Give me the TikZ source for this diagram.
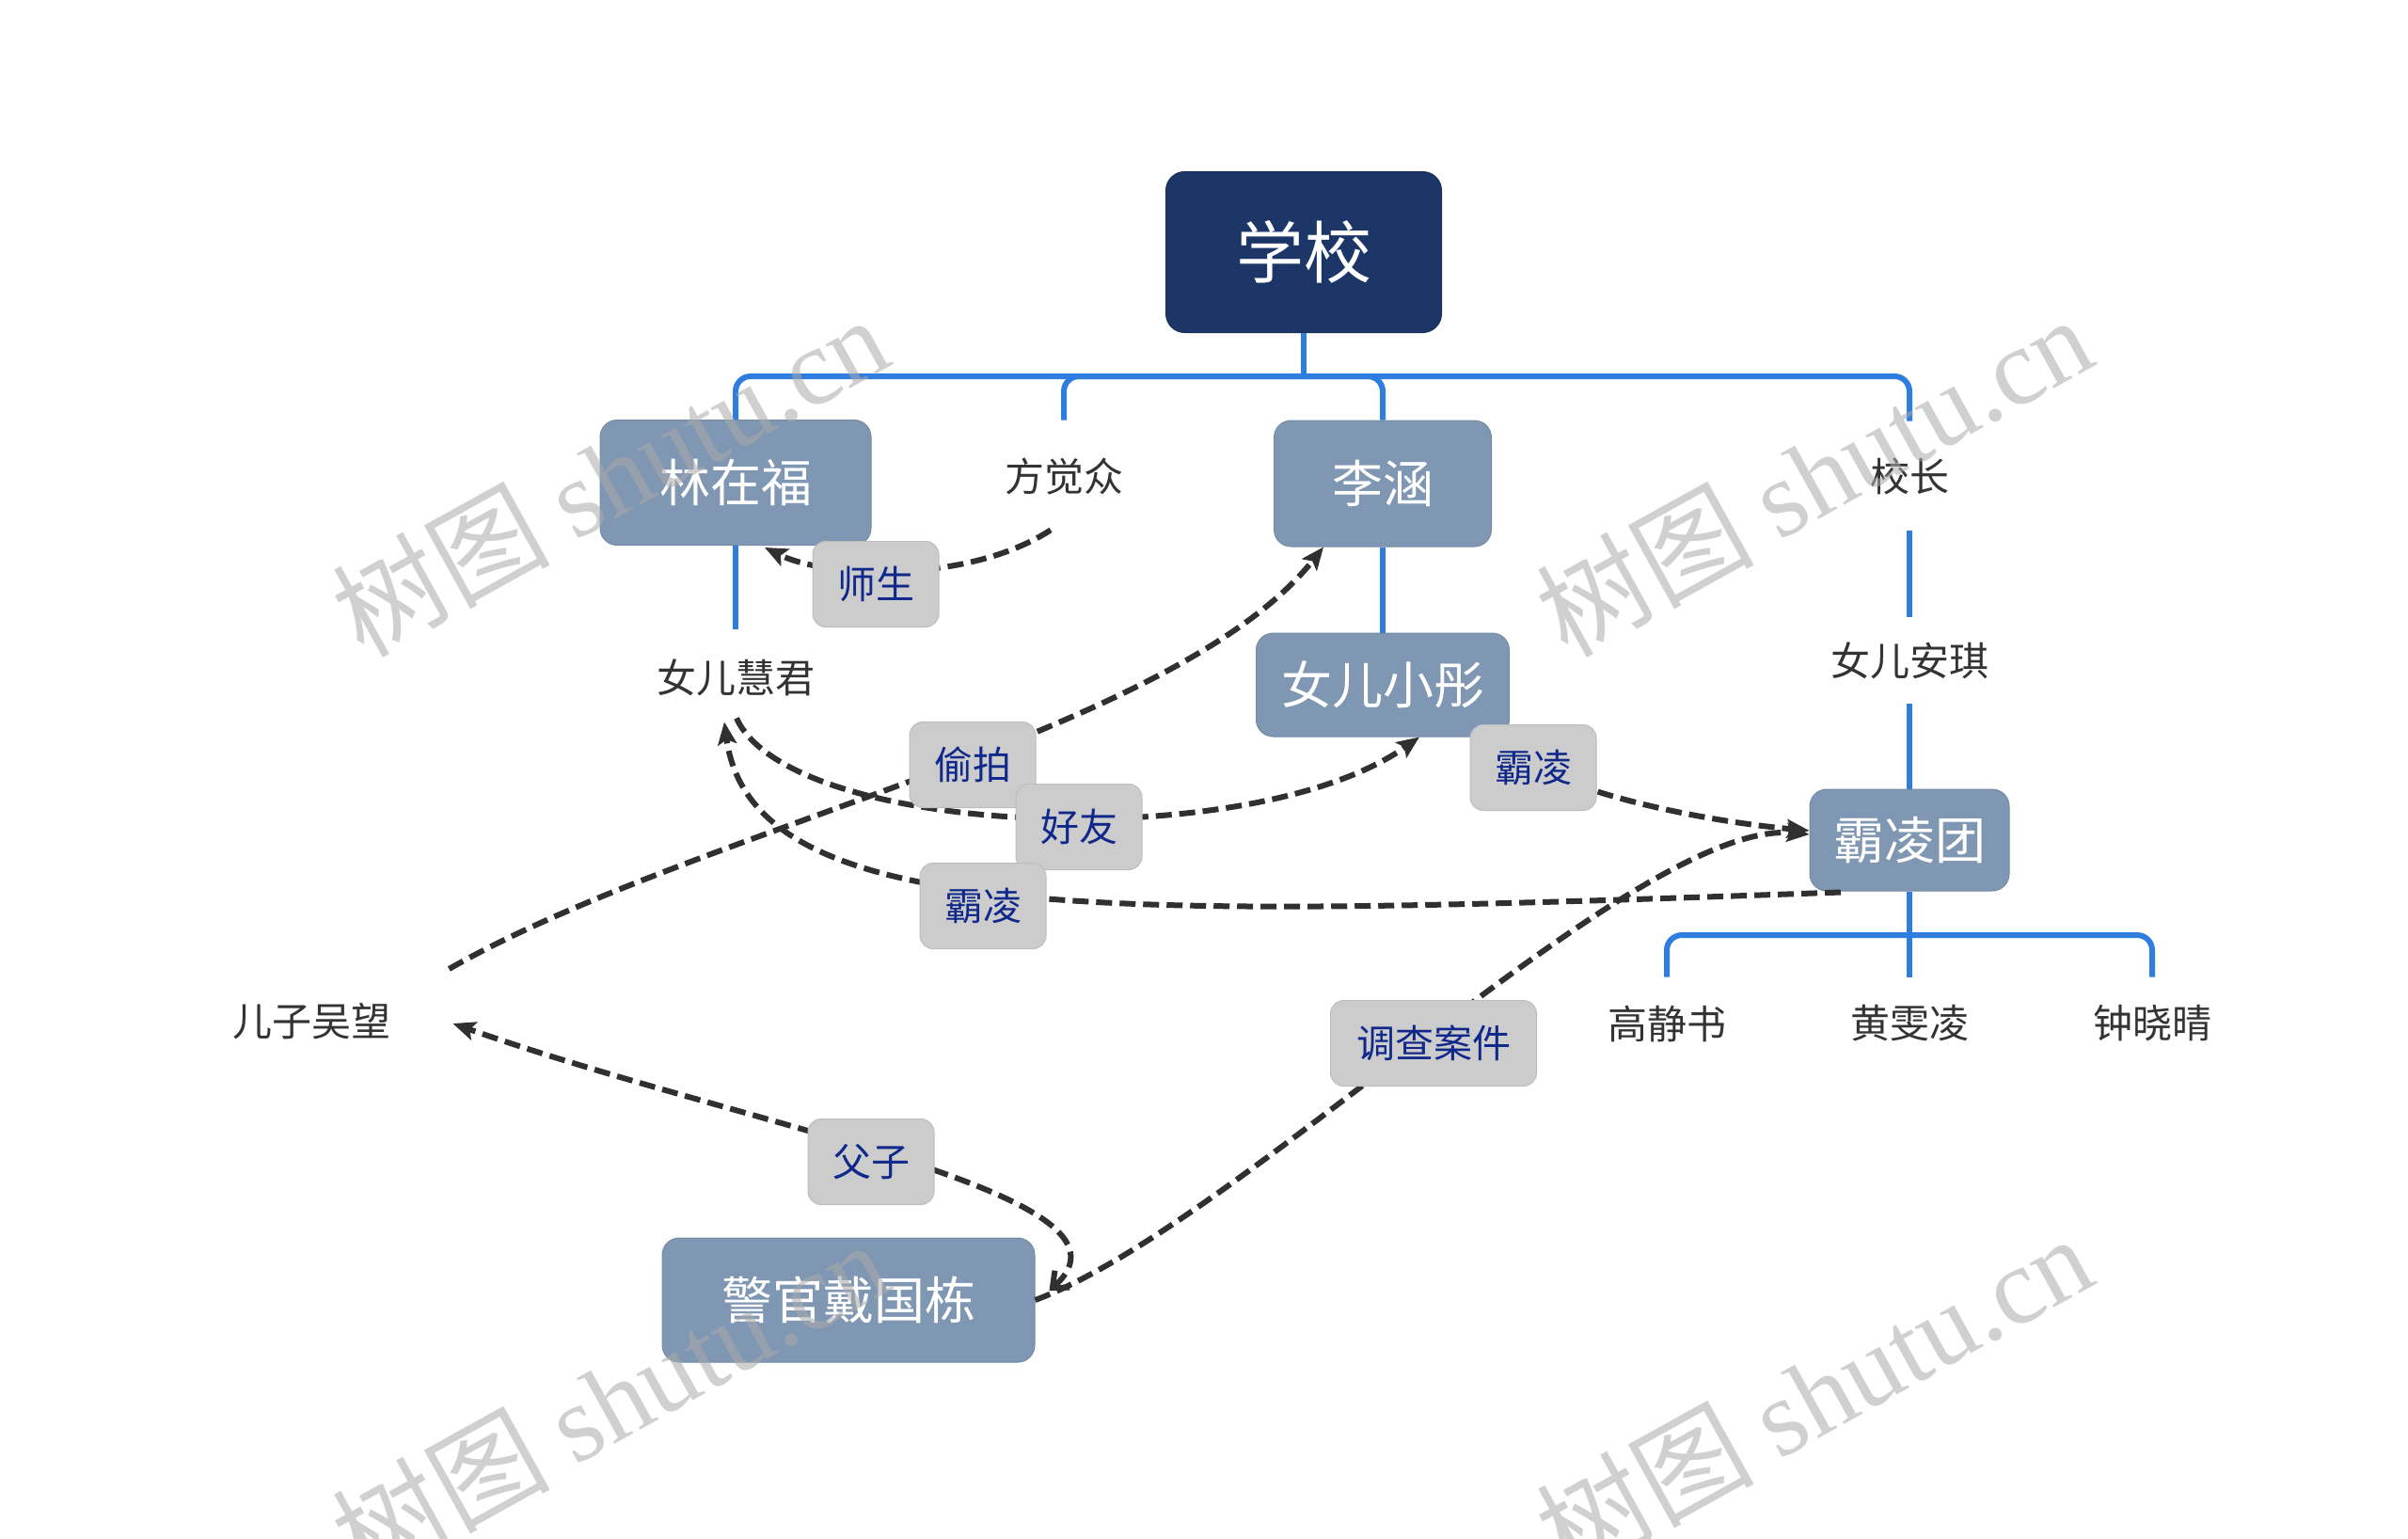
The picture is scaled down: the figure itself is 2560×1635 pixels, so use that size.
\documentclass[tikz,border=0pt]{standalone}
\usepackage{fontspec}
\newfontfamily\cjk{Noto Sans CJK SC}
\newfontfamily\wmserif{Liberation Serif}
\usetikzlibrary{arrows.meta,calc}
\definecolor{rootfill}{HTML}{1C3668}
\definecolor{topicfill}{HTML}{7F97B2}
\definecolor{labelfill}{HTML}{CCCCCC}
\definecolor{labelborder}{HTML}{BDBDBD}
\definecolor{labeltext}{HTML}{10288A}
\definecolor{plaintext}{HTML}{333333}
\definecolor{treeblue}{HTML}{2F7DDF}
\definecolor{reldark}{HTML}{303030}
\definecolor{wmgray}{HTML}{AAAAAA}
\tikzset{
  rootbox/.style={fill=rootfill, draw=rootfill!85!black, line width=0.5pt, rounded corners=10pt, text=white,
    font=\cjk\fontsize{36}{40}\selectfont, minimum width=146.5pt, minimum height=85.5pt, inner sep=0pt},
  topicbox/.style={fill=topicfill, draw=topicfill!92!black, line width=0.5pt, rounded corners=9pt, text=white,
    font=\cjk\fontsize{27}{30}\selectfont, inner sep=0pt},
  plain/.style={text=plaintext, font=\cjk\fontsize{21}{24}\selectfont, inner sep=0pt, minimum height=49pt},
  relbox/.style={fill=labelfill, draw=labelborder, line width=0.5pt, rounded corners=7pt, text=labeltext,
    font=\cjk\fontsize{20.5}{23}\selectfont, minimum width=67pt, minimum height=45.5pt, inner sep=0pt},
  tree/.style={draw=treeblue, line width=3pt, rounded corners=8pt},
  rel/.style={draw=reldark, line width=3pt, dash pattern=on 8.5pt off 4pt},
  tip/.tip={Stealth[length=12pt,width=10pt,inset=2.5pt]},
  wm/.style={rotate=29, text=wmgray, text opacity=0.55, font=\cjk\fontsize{58}{60}\selectfont, inner sep=0pt}
}
\begin{document}
\begin{tikzpicture}[x=0.5pt,y=-0.5pt]
\useasboundingbox[fill=white] (0,0) rectangle (2560,1635);

% topics
\node[rootbox] (root) at (1386,268) {学校};
\node[topicbox, minimum width=144pt, minimum height=66.5pt] (lzf) at (782,513) {林在福};
\node[plain, minimum height=59pt] (fjz) at (1131,506) {方觉众};
\node[topicbox, minimum width=115.5pt, minimum height=67pt] (lh) at (1470,514) {李涵};
\node[plain, minimum height=58pt] (xz) at (2030,506) {校长};
\node[plain, minimum height=51pt] (nhj) at (782,720) {女儿慧君};
\node[topicbox, minimum width=134.5pt, minimum height=55pt] (nxt) at (1470,728) {女儿小彤};
\node[plain, minimum height=46pt] (naq) at (2030,702) {女儿安琪};
\node[topicbox, minimum width=106pt, minimum height=54pt] (blt) at (2030,893) {霸凌团};
\node[plain] (gjs) at (1772,1088) {高静书};
\node[plain] (hwl) at (2030,1088) {黄雯凌};
\node[plain] (zxq) at (2288,1088) {钟晓晴};
\node[plain] (ezw) at (331,1086) {儿子吴望};
\node[topicbox, minimum width=198pt, minimum height=66pt] (jg) at (902,1382) {警官戴国栋};

% tree lines
\coordinate (hub) at (1386,400);
\coordinate (hub2) at (2030,994);
\draw[tree, rounded corners=0pt] (root.south) -- (hub);
\draw[tree] (hub) -| (lzf.north);
\draw[tree] (hub) -| (fjz.north);
\draw[tree] (hub) -| (lh.north);
\draw[tree] (hub) -| (xz.north);
\draw[tree] (lzf.south) -- (nhj.north);
\draw[tree] (lh.south) -- (nxt.north);
\draw[tree] (xz.south) -- (naq.north);
\draw[tree] (naq.south) -- (blt.north);
\draw[tree, rounded corners=0pt] (blt.south) -- (hub2) -- (hwl.north);
\draw[tree] (hub2) -| (gjs.north);
\draw[tree] (hub2) -| (zxq.north);

% relationships
\draw[rel, -tip] ([shift={(-14,-2)}]fjz.south) .. controls (1030,620) and (880,615) .. ([shift={(31,2)}]lzf.south);
\draw[rel, -tip] ([shift={(62,-56)}]ezw.east) .. controls (740,880) and (1250,780) .. ([shift={(-63,0)}]lh.south);
\draw[rel, -tip] ([shift={(1,-8)}]nhj.south) .. controls (840,890) and (1330,910) .. ([shift={(39,0)}]nxt.south);
\draw[rel, -tip] ([shift={(-73,1)}]blt.south) .. controls (1200,975) and (800,990) .. ([shift={(-12,-4)}]nhj.south);
\draw[rel, -tip] ([shift={(-15,0)}]nxt.south east) .. controls (1620,830) and (1780,870) .. ([shift={(0,-10)}]blt.west);
\draw[rel, -tip] (jg.east) .. controls (1320,1300) and (1740,870) .. ([shift={(0,-6)}]blt.west);
\draw[rel, {Straight Barb[length=7pt,width=12pt,line width=3pt]}-tip] ([shift={(15,-10)}]jg.east) .. controls (1230,1270) and (800,1200) .. ([shift={(66,2)}]ezw.east);

% relationship labels
\node[relbox] (l1) at (931,621) {师生};
\node[relbox] (l2) at (1034,813) {偷拍};
\node[relbox] (l3) at (1147,879) {好友};
\node[relbox] (l4) at (1045,963) {霸凌};
\node[relbox] (l5) at (1630,816) {霸凌};
\node[relbox, minimum width=109.5pt] (l6) at (1524,1109) {调查案件};
\node[relbox] (l7) at (926,1235) {父子};

% watermarks
\node[wm] (wm1) at (648,505) {树图 {\wmserif shutu.cn}};
\node[wm] (wm2) at (1928,505) {树图 {\wmserif shutu.cn}};
\node[wm] (wm3) at (648,1488) {树图 {\wmserif shutu.cn}};
\node[wm] (wm4) at (1928,1482) {树图 {\wmserif shutu.cn}};
\end{tikzpicture}
\end{document}
